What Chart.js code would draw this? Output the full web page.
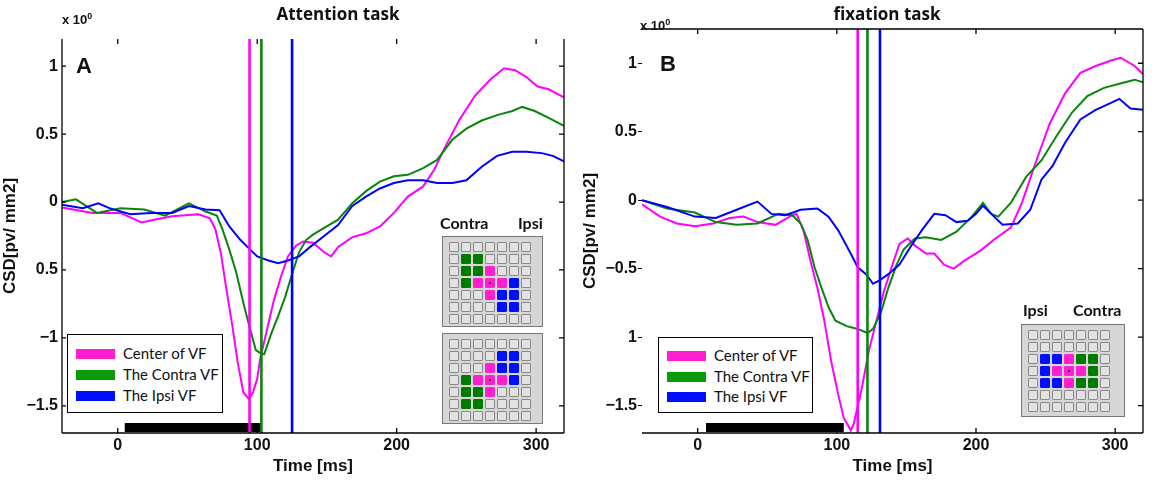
<!DOCTYPE html>
<html>
<head>
<meta charset="utf-8">
<script src="https://cdn.jsdelivr.net/npm/chart.js@4"></script>
<style>
  body { margin: 0; background: #fff; }
  #wrap { position: relative; width: 1164px; height: 483px; overflow: hidden; font-family: 'Lato', sans-serif; color: #111; }
  canvas { position: absolute; top: 0; }
  .abs { position: absolute; white-space: nowrap; line-height: 1; }
  .title { font-family: 'Open Sans', sans-serif; font-weight: 700; font-size: 17px; transform: translateX(-50%); }
  .mult { font-family: 'Liberation Sans', sans-serif; font-weight: bold; font-size: 13px; }
  .mult sup { font-size: 9px; }
  .panel { font-family: 'Liberation Sans', sans-serif; font-weight: bold; font-size: 22px; }
  .legend { border: 1.5px solid #000; background: #fff; box-sizing: border-box; }
  .legend .row { position: absolute; left: 8px; display: flex; align-items: center; font-size: 15px; }
  .legend .sw { width: 39px; height: 10px; margin-right: 8px; }
  .side { font-weight: bold; font-size: 16px; }
  .grid { background: #d6d6d6; border: 1px solid #777; box-sizing: border-box; display: grid;
          grid-template-columns: repeat(7, 10px); grid-auto-rows: 10px; gap: 2px; padding: 5px 6px; }
  .cell { box-sizing: border-box; border: 1.5px solid #8a8a8a; background: #e2e2e2; border-radius: 1px; position: relative; }
  .cell.G { background: #007a00; border-color: #007a00; }
  .cell.P { background: #ff1fcf; border-color: #ff1fcf; }
  .cell.B { background: #0010ff; border-color: #0010ff; }
  .cell.c::after { content: ''; position: absolute; left: 2.5px; top: 2.5px; width: 2px; height: 2px; background: #000; border-radius: 1px; }
</style>
</head>
<body>
<div id="wrap">
  <canvas id="chartA" width="580" height="483" style="left:0"></canvas>
  <canvas id="chartB" width="584" height="483" style="left:580px"></canvas>

  <div class="abs title" style="left:338px;top:5px">Attention task</div>
  <div class="abs title" style="left:887px;top:5px">fixation task</div>
  <div class="abs mult" style="left:62px;top:12px">x 10<sup>0</sup></div>
  <div class="abs mult" style="left:640px;top:18px">x 10<sup>0</sup></div>
  <div class="abs panel" style="left:76px;top:55px">A</div>
  <div class="abs panel" style="left:660px;top:53px">B</div>

  <div class="abs legend" id="legendA" style="left:67px;top:334px;width:156px;height:79px"></div>
  <div class="abs legend" id="legendB" style="left:658px;top:337px;width:155px;height:76px"></div>

  <div class="abs side" style="left:440px;top:215px">Contra</div>
  <div class="abs side" style="left:518px;top:215px">Ipsi</div>
  <div class="abs grid" id="insetTopA" style="left:442px;top:236px;width:101px;height:91px"></div>
  <div class="abs grid" id="insetBottomA" style="left:442px;top:333px;width:101px;height:91px"></div>

  <div class="abs side" style="left:1023px;top:302px">Ipsi</div>
  <div class="abs side" style="left:1073px;top:302px">Contra</div>
  <div class="abs grid" id="insetB" style="left:1021px;top:324px;width:104px;height:93px"></div>
</div>
<script>
// ---- data (CSD x 10^0, time in ms) ----
const seriesNames = ['Center of VF', 'The Contra VF', 'The Ipsi VF'];
const xTicks = [0, 100, 200, 300];
const yTicks = [-1.5, -1, -0.5, 0, 0.5, 1];
const yTickLabelsA = ['\u22121.5', '\u22121', '0.5', '0', '0.5', '1'];
const yTickLabelsB = ['\u22121.5', '1', '\u22120.5', '0', '0.5', '1'];

// panel A: attention task
const tA_center = [-40, -18, 2, 17, 26, 39, 58, 66, 70, 74, 78, 82, 86, 90, 94, 97, 100, 102, 107, 112, 117, 122, 128, 133, 140, 148, 153, 158, 168, 178, 188, 198, 208, 219, 227, 235, 245, 256, 267, 277, 285, 293, 301, 309, 320];
const yA_center = [-0.04, -0.08, -0.08, -0.15, -0.13, -0.105, -0.09, -0.12, -0.2, -0.38, -0.65, -0.9, -1.18, -1.4, -1.45, -1.4, -1.3, -1.16, -0.94, -0.72, -0.55, -0.4, -0.32, -0.29, -0.3, -0.37, -0.4, -0.33, -0.26, -0.23, -0.18, -0.08, 0.04, 0.115, 0.24, 0.41, 0.605, 0.78, 0.9, 0.985, 0.97, 0.92, 0.85, 0.83, 0.77];
const tA_contra = [-40, -30, -15, 2, 19, 34, 51, 63, 71, 75, 80, 85, 90, 95, 99, 102, 105, 110, 115, 120, 125, 130, 135, 140, 148, 158, 168, 178, 188, 198, 208, 219, 229, 240, 250, 261, 272, 283, 290, 299, 309, 320];
const yA_contra = [0, 0.02, -0.08, -0.045, -0.055, -0.1, -0.01, -0.07, -0.1, -0.2, -0.35, -0.52, -0.74, -0.94, -1.09, -1.11, -1.12, -0.97, -0.84, -0.7, -0.53, -0.37, -0.28, -0.24, -0.19, -0.13, -0.01, 0.08, 0.15, 0.19, 0.2, 0.25, 0.31, 0.46, 0.54, 0.6, 0.64, 0.67, 0.7, 0.67, 0.62, 0.56];
const tA_ipsi = [-40, -25, -14, -6, 9, 24, 39, 51, 63, 73, 80, 88, 93, 100, 108, 115, 122, 130, 138, 148, 158, 168, 178, 188, 198, 208, 219, 229, 240, 250, 261, 272, 283, 293, 304, 312, 320];
const yA_ipsi = [-0.02, -0.045, -0.01, -0.045, -0.09, -0.08, -0.08, -0.03, -0.055, -0.06, -0.18, -0.28, -0.33, -0.4, -0.43, -0.45, -0.43, -0.4, -0.33, -0.25, -0.17, -0.03, 0.04, 0.1, 0.14, 0.16, 0.16, 0.14, 0.14, 0.16, 0.26, 0.34, 0.37, 0.37, 0.36, 0.34, 0.3];
const markersA = [94.5, 103, 125];
const stimA = [5, 103];

// panel B: fixation task
const tB_center = [-40, -27, -15, -2, 11, 23, 33, 43, 56, 66, 71, 76, 81, 86, 91, 96, 101, 105, 110, 112, 118, 123, 129, 134, 140, 145, 151, 156, 164, 170, 177, 184, 192, 203, 214, 225, 233, 242, 253, 264, 275, 286, 297, 304, 314, 320];
const yB_center = [-0.03, -0.12, -0.17, -0.19, -0.17, -0.13, -0.12, -0.16, -0.18, -0.12, -0.1, -0.22, -0.44, -0.64, -0.88, -1.18, -1.42, -1.59, -1.68, -1.64, -1.37, -1.1, -0.86, -0.66, -0.47, -0.32, -0.28, -0.33, -0.39, -0.39, -0.47, -0.5, -0.44, -0.37, -0.28, -0.2, -0.02, 0.25, 0.56, 0.78, 0.93, 0.98, 1.02, 1.04, 0.98, 0.92];
const tB_contra = [-40, -22, -2, 13, 28, 43, 58, 68, 74, 79, 84, 89, 94, 99, 107, 115, 122, 126, 132, 137, 143, 148, 156, 164, 175, 186, 197, 205, 211, 216, 225, 236, 247, 258, 269, 280, 292, 303, 314, 320];
const yB_contra = [0, -0.06, -0.09, -0.16, -0.18, -0.17, -0.1, -0.11, -0.17, -0.29, -0.49, -0.64, -0.78, -0.88, -0.92, -0.94, -0.97, -0.94, -0.81, -0.64, -0.47, -0.36, -0.28, -0.27, -0.29, -0.23, -0.12, -0.02, -0.1, -0.12, -0.02, 0.17, 0.29, 0.47, 0.64, 0.76, 0.82, 0.85, 0.88, 0.86];
const tB_ipsi = [-40, -22, -2, 13, 28, 43, 53, 63, 74, 86, 94, 101, 110, 115, 121, 126, 130, 137, 145, 153, 161, 170, 178, 186, 194, 200, 205, 211, 219, 230, 239, 247, 255, 264, 275, 286, 297, 303, 311, 320];
const yB_ipsi = [0, -0.05, -0.12, -0.13, -0.07, -0.01, -0.1, -0.11, -0.07, -0.06, -0.12, -0.22, -0.39, -0.49, -0.54, -0.61, -0.59, -0.54, -0.47, -0.34, -0.22, -0.1, -0.11, -0.16, -0.15, -0.1, -0.04, -0.1, -0.18, -0.17, -0.07, 0.15, 0.25, 0.42, 0.59, 0.66, 0.71, 0.74, 0.67, 0.66];
const markersB = [115, 122, 131];
const stimB = [6, 105];

const stimLevel = -1.66;

// electrode grids (G contra, P center, B ipsi)
const insetTopA = ['.......', '.GG....', '.GGP...', '.GPPPB.', '...PBB.', '....BB.', '.......'];
const insetBottomA = ['.......', '....BB.', '...PBB.', '.GPPPB.', '.GGP...', '.GG....', '.......'];
const insetB = ['.......', '.......', '.BBPGG.', '.BPPPG.', '.BBPGG.', '.......', '.......'];

const lineColors = ['#ff00ff', '#0a850a', '#0000ff'];
const swatchColors = ['#ff1fcf', '#0a9a0a', '#0010ff'];
const tickFont = { family: 'Liberation Sans', weight: 'bold', size: 16 };
const titleFont = { family: 'Liberation Sans', weight: 'bold', size: 17 };

function pts(xs, ys) {
  return xs.map((x, i) => ({ x: x, y: ys[i] }));
}

const framePlugin = {
  id: 'frame',
  afterDatasetsDraw(chart, args, opts) {
    const { ctx, chartArea: a, scales } = chart;
    ctx.save();
    ctx.strokeStyle = '#000';
    ctx.lineWidth = 1.3;
    ctx.beginPath();
    ctx.moveTo(a.left, a.bottom); ctx.lineTo(a.right, a.bottom);
    ctx.moveTo(a.right, a.top); ctx.lineTo(a.right, a.bottom);
    if (opts.left) { ctx.moveTo(a.left, a.top); ctx.lineTo(a.left, a.bottom); }
    if (opts.top) { ctx.moveTo(a.left, a.top); ctx.lineTo(a.right, a.top); }
    xTicks.forEach(v => {
      const px = scales.x.getPixelForValue(v);
      ctx.moveTo(px, a.bottom); ctx.lineTo(px, a.bottom - 5);
      ctx.moveTo(px, a.top); ctx.lineTo(px, a.top + 5);
    });
    yTicks.forEach(v => {
      const py = scales.y.getPixelForValue(v);
      ctx.moveTo(a.right, py); ctx.lineTo(a.right - 5, py);
      if (opts.left) { ctx.moveTo(a.left, py); ctx.lineTo(a.left + 4, py); }
    });
    ctx.stroke();
    ctx.restore();
  }
};

function makeChart(id, curves, markers, stim, yMax, tickLabels, pad, frame) {
  const yMin = -1.7;
  const datasets = [];
  markers.forEach((m, i) => {
    datasets.push({ data: [{ x: m, y: yMin }, { x: m, y: yMax }], borderColor: lineColors[i], borderWidth: 2.6 });
  });
  datasets.push({ data: [{ x: stim[0], y: stimLevel }, { x: stim[1], y: stimLevel }], borderColor: '#000', borderWidth: 9, borderCapStyle: 'butt' });
  [2, 1, 0].forEach(i => {
    datasets.push({ data: pts(curves[i][0], curves[i][1]), borderColor: lineColors[i], borderWidth: 2 });
  });

  return new Chart(document.getElementById(id).getContext('2d'), {
    type: 'line',
    data: { datasets: datasets },
    options: {
      responsive: false,
      animation: false,
      layout: { padding: pad },
      elements: { point: { radius: 0 }, line: { tension: 0, fill: false } },
      plugins: { legend: { display: false }, tooltip: { enabled: false }, frame: frame },
      scales: {
        x: {
          type: 'linear', min: -40, max: 320,
          afterBuildTicks: s => { s.ticks = xTicks.map(v => ({ value: v })); },
          afterFit: s => { s.height = 50; },
          grid: { drawOnChartArea: false, drawTicks: false },
          border: { display: false },
          ticks: { font: tickFont, color: '#111', padding: 3, maxRotation: 0 },
          title: { display: true, text: 'Time [ms]', font: titleFont, color: '#111', padding: { top: 0, bottom: 6 } }
        },
        y: {
          type: 'linear', min: yMin, max: yMax,
          afterBuildTicks: s => { s.ticks = yTicks.map(v => ({ value: v })); },
          afterFit: s => { s.width = 62; },
          grid: { drawOnChartArea: false, drawTicks: !frame.left, tickLength: 4, color: '#000' },
          border: { display: false },
          ticks: { font: tickFont, color: '#111', padding: frame.left ? 4 : 1, callback: (v, i) => tickLabels[i] },
          title: { display: true, text: 'CSD[pv/ mm2]', font: titleFont, color: '#111', padding: { top: 0, bottom: 0 } }
        }
      }
    },
    plugins: [framePlugin]
  });
}

makeChart('chartA',
  [[tA_center, yA_center], [tA_contra, yA_contra], [tA_ipsi, yA_ipsi]],
  markersA, stimA, 1.2, yTickLabelsA,
  { top: 39, right: 16, left: 0, bottom: 0 }, { left: true, top: false });

makeChart('chartB',
  [[tB_center, yB_center], [tB_contra, yB_contra], [tB_ipsi, yB_ipsi]],
  markersB, stimB, 1.25, yTickLabelsB,
  { top: 29, right: 21, left: 0, bottom: 0 }, { left: false, top: true });

// legends
function buildLegend(id, rowTops) {
  const box = document.getElementById(id);
  seriesNames.forEach((name, i) => {
    const row = document.createElement('div');
    row.className = 'row';
    row.style.top = rowTops[i] + 'px';
    row.innerHTML = '<span class="sw" style="background:' + swatchColors[i] + '"></span><span>' + name + '</span>';
    box.appendChild(row);
  });
}
buildLegend('legendA', [11, 32, 53]);
buildLegend('legendB', [10, 31, 51]);

// electrode insets
function buildInset(id, pattern) {
  const box = document.getElementById(id);
  pattern.forEach((rowStr, r) => {
    rowStr.split('').forEach((ch, c) => {
      const cell = document.createElement('div');
      cell.className = 'cell' + (ch !== '.' ? ' ' + ch : '') + (r === 3 && c === 3 ? ' c' : '');
      box.appendChild(cell);
    });
  });
}
buildInset('insetTopA', insetTopA);
buildInset('insetBottomA', insetBottomA);
buildInset('insetB', insetB);
</script>
</body>
</html>
